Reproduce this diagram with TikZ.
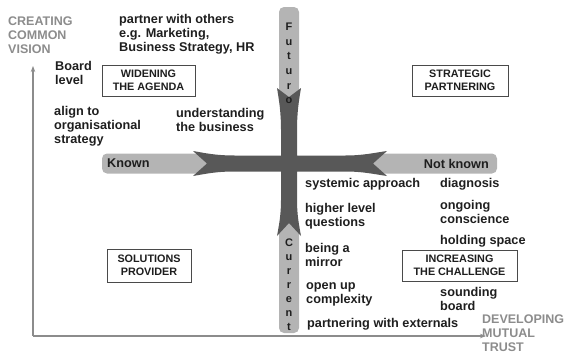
\documentclass[tikz,border=0pt]{standalone}
\usepackage{fontspec}
\setmainfont{Liberation Sans}
\usetikzlibrary{arrows.meta}
\definecolor{ink}{HTML}{1E1E1E}
\definecolor{axisgray}{HTML}{8C8C8C}
\definecolor{barlight}{HTML}{B4B4B4}
\definecolor{bardark}{HTML}{585858}
\definecolor{boxline}{HTML}{4A4A4A}
\begin{document}
\begin{tikzpicture}[x=1pt,y=-1pt,
  txt/.style={font=\fontsize{12.7}{14}\selectfont\bfseries, text=ink, align=left, inner sep=0pt, anchor=west},
  axislbl/.style={txt, text=axisgray, font=\fontsize{12.5}{14}\selectfont\bfseries},
  quadbox/.style={draw=boxline, line width=1pt, fill=white, font=\fontsize{10.8}{12.5}\selectfont\bfseries, text=ink, align=center, inner sep=0pt},
  barletters/.style={font=\fontsize{11}{14.6}\selectfont\bfseries, text=ink, align=center, inner sep=0pt},
  axisline/.style={draw=axisgray, line width=1.2pt, -{Stealth[length=6pt,width=4.5pt]}},
  lightbar/.style={fill=barlight, rounded corners=5pt},
  darkcross/.style={fill=bardark}
]
\useasboundingbox (0,0) rectangle (572,354);

% light bar segments
\fill[lightbar] (279,99) -- (279,7) -- (299,7) -- (299,99) -- cycle;
\fill[lightbar] (279,220) -- (279,333) -- (299,333) -- (299,220) -- cycle;
\fill[lightbar] (210,153.5) -- (102,153.5) -- (102,173.5) -- (210,173.5) -- cycle;
\fill[lightbar] (370,153.5) -- (497,153.5) -- (497,173.5) -- (370,173.5) -- cycle;

% dark cross
\fill[darkcross] (193,151)
  .. controls (205,153) and (215,155.5) .. (235,155.5)
  -- (281,155.5) -- (281,130)
  .. controls (281,112) and (279,100) .. (277,88)
  -- (289,97) -- (301,88)
  .. controls (299,100) and (297,112) .. (297,130)
  -- (297,155.5) -- (345,155.5)
  .. controls (363,155.5) and (373,153) .. (387,151)
  -- (373,163.5) -- (387,176)
  .. controls (373,174) and (363,171.5) .. (345,171.5)
  -- (297,171.5) -- (297,200)
  .. controls (297,215) and (299,225) .. (301,236)
  -- (289,223) -- (277,236)
  .. controls (279,225) and (281,215) .. (281,200)
  -- (281,171.5) -- (235,171.5)
  .. controls (215,171.5) and (205,174) .. (193,176)
  -- (207,163.5) -- cycle;

% axes
\coordinate (origin) at (33,336);
\coordinate (ytip) at (33,66);
\coordinate (xtip) at (486,336);
\draw[axisline] (origin) -- (ytip);
\draw[axisline] (origin) -- (xtip);

% axis labels
\node[axislbl] (vision) at (8,35.5) {CREATING\\COMMON\\VISION};
\node[axislbl] (trust) at (482,333) {DEVELOPING\\MUTUAL\\TRUST};

% bar labels
\node[barletters] (futuro) at (289,63.5) {F\\u\\t\\u\\r\\o};
\node[barletters, font=\fontsize{11}{14}\selectfont\bfseries] (current) at (289,285) {C\\u\\r\\r\\e\\n\\t};
\node[txt] (known) at (107,163.5) {Known};
\node[txt, anchor=east] (notknown) at (489,163.5) {Not known};

% texts
\node[txt] (partner) at (119,34) {partner with others\\e.g. Marketing,\\Business Strategy, HR};
\node[txt] (board) at (55,72.5) {Board\\level};
\node[txt] (alignorg) at (54,126) {align to\\organisational\\strategy};
\node[txt] (understand) at (176,120) {understanding\\the business};
\node[txt] (systemic) at (305,184) {systemic approach};
\node[txt] (diagnosis) at (440,184) {diagnosis};
\node[txt] (higher) at (305,216) {higher level\\questions};
\node[txt] (ongoing) at (440,212) {ongoing\\conscience};
\node[txt] (holding) at (440,241) {holding space};
\node[txt] (mirror) at (305,255) {being a\\mirror};
\node[txt] (openup) at (306,294) {open up\\complexity};
\node[txt] (sounding) at (440,298.5) {sounding\\board};
\node[txt] (externals) at (307,324) {partnering with externals};

% quadrant boxes
\node[quadbox, minimum width=93pt, minimum height=31pt] (widening) at (148.5,80.5) {WIDENING\\THE AGENDA};
\node[quadbox, minimum width=96pt, minimum height=31pt] (strategic) at (460,80.5) {STRATEGIC\\PARTNERING};
\node[quadbox, minimum width=84pt, minimum height=33pt] (solutions) at (149,265.5) {SOLUTIONS\\PROVIDER};
\node[quadbox, minimum width=115pt, minimum height=31pt] (increasing) at (459.5,265.5) {INCREASING\\THE CHALLENGE};
\end{tikzpicture}
\end{document}
